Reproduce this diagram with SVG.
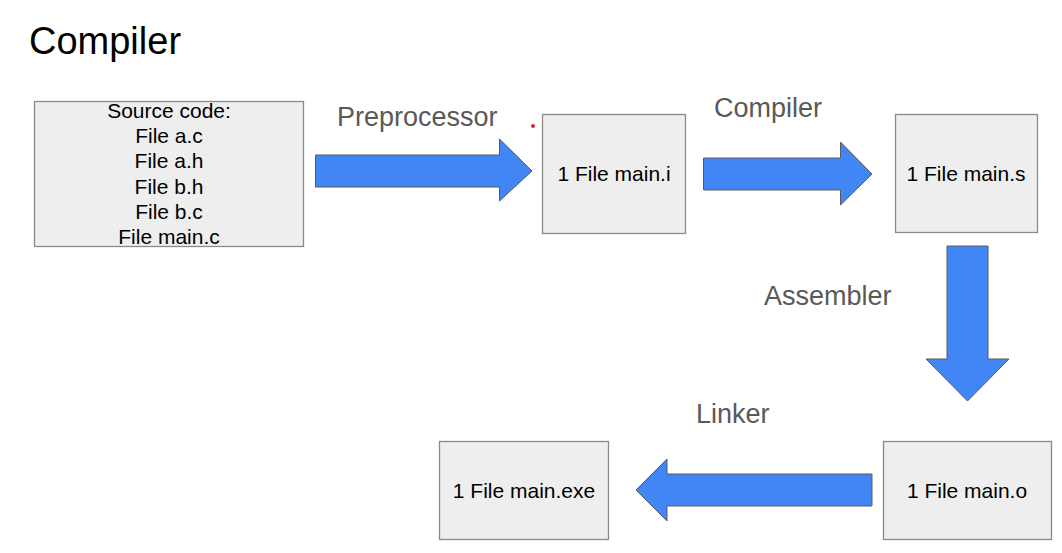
<svg xmlns="http://www.w3.org/2000/svg" width="1062" height="553" viewBox="0 0 1062 553">
<style>
.box{fill:#eeeeee;stroke:#8a8a8a;stroke-width:1.3}
.arr{fill:#4285f4;stroke:#5a5a5a;stroke-width:1}
.t{font-family:"Liberation Sans",Arial,sans-serif;font-size:21px;fill:#000;text-anchor:middle}
.lbl{font-family:"Liberation Sans",Arial,sans-serif;font-size:27px;fill:#595959}
</style>
<rect width="1062" height="553" fill="#ffffff"/>
<text x="29" y="54" font-family="'Liberation Sans',Arial,sans-serif" font-size="38" fill="#000">Compiler</text>
<g id="source">
<rect class="box" x="34.5" y="101.5" width="269" height="145"/>
<text class="t" x="169" y="118">Source code:</text>
<text class="t" x="169" y="143">File a.c</text>
<text class="t" x="169" y="168">File a.h</text>
<text class="t" x="169" y="194">File b.h</text>
<text class="t" x="169" y="219">File b.c</text>
<text class="t" x="169" y="244">File main.c</text>
</g>
<g id="main_i">
<rect class="box" x="542.5" y="114.5" width="143" height="119"/>
<text class="t" x="614" y="181">1 File main.i</text>
</g>
<g id="main_s">
<rect class="box" x="895.5" y="114.5" width="142" height="118"/>
<text class="t" x="966" y="181">1 File main.s</text>
</g>
<g id="main_o">
<rect class="box" x="883.5" y="441.5" width="168" height="98"/>
<text class="t" x="967" y="498">1 File main.o</text>
</g>
<g id="main_exe">
<rect class="box" x="439.5" y="441.5" width="169" height="98"/>
<text class="t" x="524" y="498">1 File main.exe</text>
</g>
<g id="connectors">
<polygon class="arr" points="315.5,155 499.5,155 499.5,139 532,171 499.5,201 499.5,187 315.5,187"/>
<polygon class="arr" points="703.5,158 840.5,158 840.5,142 872,174 840.5,205 840.5,190 703.5,190"/>
<polygon class="arr" points="947,246 988,246 988,359 1009,359 967.5,401 926,359 947,359"/>
<polygon class="arr" points="872,474 667,474 667,459 636,490 667,521 667,506 872,506"/>
<text class="lbl" x="337" y="126">Preprocessor</text>
<text class="lbl" x="714" y="117">Compiler</text>
<text class="lbl" x="764" y="305">Assembler</text>
<text class="lbl" x="696" y="423">Linker</text>
</g>
<circle cx="533" cy="126" r="2" fill="#e02020"/>
</svg>
